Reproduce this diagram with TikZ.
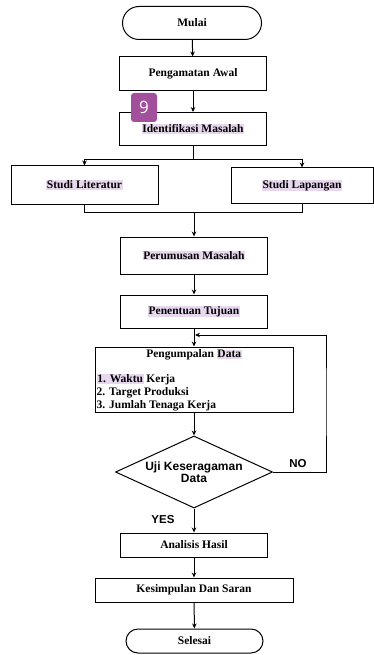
\documentclass[tikz,border=0pt]{standalone}
\usepackage{fontspec}
\setmainfont{Liberation Serif}
\newfontfamily\arialfont{Liberation Sans}
\usetikzlibrary{shapes.geometric,shapes.misc,arrows.meta}

\definecolor{hlpurple}{HTML}{E8D8EE}
\definecolor{badgepurple}{HTML}{A2509C}
\newcommand{\hl}[1]{{\setlength{\fboxsep}{0.6pt}\colorbox{hlpurple}{#1}}}

\begin{document}
\begin{tikzpicture}[x=1pt, y=-1pt]
  \tikzstyle{box} = [draw, line width=1pt, minimum width=147pt, minimum height=34pt,
  inner sep=0pt, font=\fontsize{11.5}{13}\selectfont\bfseries];
  \tikzstyle{wide} = [minimum width=198pt];
  \tikzstyle{term} = [draw, rounded rectangle, line width=1pt, minimum width=139pt,
  minimum height=33pt, inner sep=0pt, font=\fontsize{11.5}{13}\selectfont\bfseries];
  \tikzstyle{dec} = [draw, diamond, aspect=2.2, line width=1pt, minimum width=157pt,
  minimum height=72pt, inner sep=0pt, align=center,
  font=\arialfont\fontsize{12}{12}\selectfont\bfseries];
  \tikzstyle{a} = [line width=1pt, -{Stealth[length=5pt,width=4.5pt]}];
  \tikzstyle{l} = [line width=1pt];
  \tikzstyle{lbl} = [font=\arialfont\fontsize{11.5}{12}\selectfont\bfseries];

  \useasboundingbox (0,0) rectangle (373,655);

  \node[term] (mulai) at (192, 23) {Mulai};
  \node[box] (pa) at (193, 74) {Pengamatan Awal};
  \node[box, minimum height=33pt] (im) at (193, 129) {\hl{Identifikasi Masalah}};

  \node[box, minimum height=38pt] (sl) at (84.5, 185) {\hl{Studi Literatur}};
  \node[box, minimum width=142pt, minimum height=35pt] (sp) at (302, 185.5) {\hl{Studi Lapangan}};

  \node[box, minimum height=37pt] (pm) at (194, 255.5) {\hl{Perumusan Masalah}};
  \node[box, minimum height=33pt] (pt) at (194, 311.5) {\hl{Penentuan Tujuan}};

  \node[box, wide, minimum height=65pt] (pd) at (194, 379.5) {};
  \node[font=\fontsize{11.5}{13}\selectfont\bfseries, anchor=north, inner sep=0pt]
    (pdtitle) at ([yshift=-3pt]pd.north) {Pengumpalan \hl{Data}};
  \node[font=\fontsize{11.5}{13}\selectfont\bfseries, anchor=south west, align=left,
    inner sep=0pt] (pdlist) at ([xshift=2pt,yshift=1pt]pd.south west)
    {\hl{1. Waktu} Kerja\\2. Target Produksi\\3. Jumlah Tenaga Kerja};

  \node[dec] (dm) at (194, 472) {Uji Keseragaman\\Data};

  \node[box, minimum height=24pt] (ah) at (194, 545) {Analisis Hasil};
  \node[box, wide, minimum height=24pt] (ks) at (194, 590) {Kesimpulan Dan Saran};
  \node[term, minimum width=137pt, minimum height=24pt] (selesai) at (194.5, 641) {Selesai};

  \node[lbl] (no) at (298, 464) {NO};
  \node[lbl] (yes) at (163, 520) {YES};

  \coordinate (s1) at (193, 160);
  \coordinate (j1) at (194, 212);
  \coordinate (m1) at (194, 335);
  \coordinate (r1) at (326, 400);

  \draw[a] (mulai) to (pa);
  \draw[a] (pa) to (im);
  \draw[l] (im) to (s1);
  \draw[a] (s1) -| (sl.north);
  \draw[a] (s1) -| (sp.north);
  \draw[l] (sl.south) |- (j1);
  \draw[l] (sp.south) |- (j1);
  \draw[a] (j1) to (pm);
  \draw[a] (pm) to (pt);
  \draw[a] (pt) to (pd);
  \draw[a] (dm.east) -| (r1) |- ([xshift=1pt]m1);
  \draw[a] (pd) to (dm);
  \draw[a] (dm) to (ah);
  \draw[a] (ah) to (ks);
  \draw[a] (ks) to (selesai);

  % badge sits over the arrow, as in the scan
  \node[fill=badgepurple, rounded corners=3pt, minimum width=26pt, minimum height=29pt,
    inner sep=0pt, text=white, font=\fontspec{Open Sans}\fontsize{17}{17}\selectfont]
    (badge) at (144, 107.5) {9};
\end{tikzpicture}
\end{document}
